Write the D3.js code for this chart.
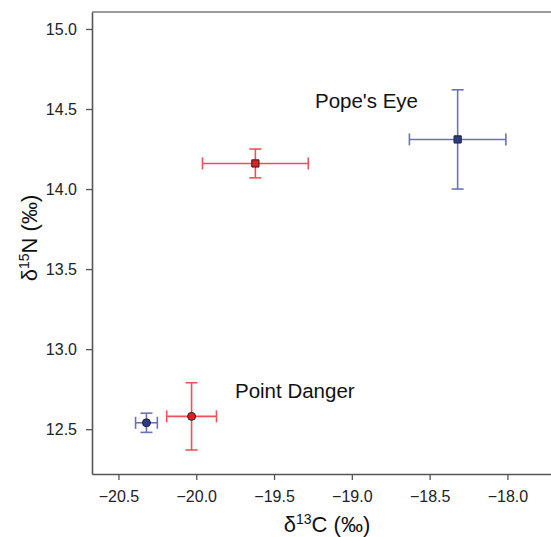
<!DOCTYPE html>
<html>
<head>
<meta charset="utf-8">
<script src="https://cdn.jsdelivr.net/npm/d3@7"></script>
<style>
body { margin: 0; background: #fff; }
svg { font-family: "Liberation Sans", Arial, sans-serif; }
</style>
</head>
<body>
<div id="chart"></div>
<script>
// sites (shape) and two groups (colour) per site
var sites = ["Pope's Eye", "Point Danger"];
var redC    = [-19.62, -20.03];
var redCsd  = [0.34, 0.16];
var redN    = [14.16, 12.58];
var redNsd  = [0.09, 0.21];
var blueC   = [-18.32, -20.32];
var blueCsd = [0.31, 0.07];
var blueN   = [14.31, 12.54];
var blueNsd = [0.31, 0.06];

var xTicks = [-20.5, -20.0, -19.5, -19.0, -18.5, -18.0];
var yTicks = [12.5, 13.0, 13.5, 14.0, 14.5, 15.0];

// label anchors in data units
var labelAt = [[-19.237, 14.506], [-19.751, 12.693]];

var W = 551, H = 537;
var mL = 92, mT = 12, mB = 474, mR = 551;

var svg = d3.select("#chart").append("svg")
    .attr("width", W)
    .attr("height", H);

var x = d3.scaleLinear().domain([-20.67, -17.72]).range([mL, mR]);
var y = d3.scaleLinear().domain([12.22, 15.106]).range([mB, mT]);

var fmt = d3.format(".1f");

// frame top
svg.append("line")
    .attr("x1", mL).attr("x2", mR)
    .attr("y1", mT).attr("y2", mT)
    .style("stroke", "#9a9a9a").style("stroke-width", 2);

var xa = svg.append("g")
    .attr("transform", "translate(0," + mB + ")")
    .call(d3.axisBottom(x).tickValues(xTicks).tickFormat(fmt).tickSize(6).tickSizeOuter(0).tickPadding(6));
var ya = svg.append("g")
    .attr("transform", "translate(" + mL + ",0)")
    .call(d3.axisLeft(y).tickValues(yTicks).tickFormat(fmt).tickSize(6).tickSizeOuter(0).tickPadding(9));

[xa, ya].forEach(function(a){
    a.attr("font-size", 16).attr("font-family", "'Liberation Sans', Arial, sans-serif");
    a.select(".domain").style("stroke", "#555").style("stroke-width", 1.6);
    a.selectAll(".tick line").style("stroke", "#555").style("stroke-width", 1.3);
    a.selectAll(".tick text").style("fill", "#222");
});
xa.selectAll(".tick text").attr("dy", "1.0em");

// groups built from arrays
var groups = [
    {C: redC, Csd: redCsd, N: redN, Nsd: redNsd, line: "#e8545a", fill: "#e01f26"},
    {C: blueC, Csd: blueCsd, N: blueN, Nsd: blueNsd, line: "#6d71b9", fill: "#2a3a8c"}
];

var cap = 6;
groups.forEach(function(g){
    var pts = sites.map(function(s, i){
        return {site: s, i: i, c: g.C[i], cs: g.Csd[i], n: g.N[i], ns: g.Nsd[i]};
    });
    var e = svg.append("g").selectAll("g")
        .data(pts)
        .enter()
        .append("g")
        .style("stroke", g.line)
        .style("stroke-width", 1.6)
        .style("fill", "none");
    // horizontal bar
    e.append("line")
        .attr("x1", function(d){return x(d.c - d.cs);})
        .attr("x2", function(d){return x(d.c + d.cs);})
        .attr("y1", function(d){return y(d.n);})
        .attr("y2", function(d){return y(d.n);});
    e.append("line")
        .attr("x1", function(d){return x(d.c - d.cs);})
        .attr("x2", function(d){return x(d.c - d.cs);})
        .attr("y1", function(d){return y(d.n) - cap;})
        .attr("y2", function(d){return y(d.n) + cap;});
    e.append("line")
        .attr("x1", function(d){return x(d.c + d.cs);})
        .attr("x2", function(d){return x(d.c + d.cs);})
        .attr("y1", function(d){return y(d.n) - cap;})
        .attr("y2", function(d){return y(d.n) + cap;});
    // vertical bar
    e.append("line")
        .attr("x1", function(d){return x(d.c);})
        .attr("x2", function(d){return x(d.c);})
        .attr("y1", function(d){return y(d.n + d.ns);})
        .attr("y2", function(d){return y(d.n - d.ns);});
    e.append("line")
        .attr("x1", function(d){return x(d.c) - cap;})
        .attr("x2", function(d){return x(d.c) + cap;})
        .attr("y1", function(d){return y(d.n + d.ns);})
        .attr("y2", function(d){return y(d.n + d.ns);});
    e.append("line")
        .attr("x1", function(d){return x(d.c) - cap;})
        .attr("x2", function(d){return x(d.c) + cap;})
        .attr("y1", function(d){return y(d.n - d.ns);})
        .attr("y2", function(d){return y(d.n - d.ns);});

    // markers: square for Pope's Eye, circle for Point Danger
    svg.append("g").selectAll("path")
        .data(pts)
        .enter()
        .append("path")
        .attr("transform", function(d){return "translate(" + x(d.c) + "," + y(d.n) + ")";})
        .attr("d", function(d){
            return d3.symbol().type(d.i === 0 ? d3.symbolSquare : d3.symbolCircle)
                .size(d.i === 0 ? 52 : 50)();
        })
        .style("fill", g.fill)
        .style("stroke", "#222")
        .style("stroke-width", 1);
});

// site labels
svg.selectAll("text.site")
    .data(sites)
    .enter()
    .append("text")
    .attr("class", "site")
    .attr("x", function(d, i){return x(labelAt[i][0]);})
    .attr("y", function(d, i){return y(labelAt[i][1]);})
    .style("font-size", "20.5px")
    .style("fill", "#111")
    .text(function(d){return d;});

// axis titles
var xt = svg.append("text")
    .attr("x", 327).attr("y", 532)
    .attr("text-anchor", "middle")
    .style("font-size", "22px").style("fill", "#111");
xt.append("tspan").text("δ");
xt.append("tspan").attr("dy", -8).style("font-size", "14px").text("13");
xt.append("tspan").attr("dy", 8).text("C (‰)");

var yt = svg.append("text")
    .attr("transform", "translate(37,238) rotate(-90)")
    .attr("text-anchor", "middle")
    .style("font-size", "22px").style("fill", "#111");
yt.append("tspan").text("δ");
yt.append("tspan").attr("dy", -8).style("font-size", "14px").text("15");
yt.append("tspan").attr("dy", 8).text("N (‰)");
</script>
</body>
</html>
